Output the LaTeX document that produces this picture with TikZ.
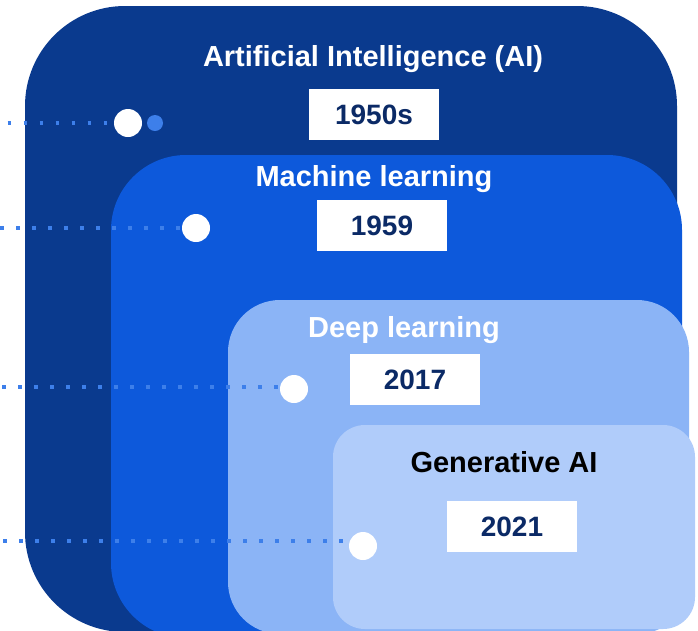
\documentclass[tikz,border=0pt]{standalone}
\usepackage{fontspec}
\setmainfont{Liberation Sans}
\usetikzlibrary{calc, shapes, backgrounds}
\definecolor{aiblue}{HTML}{0A3A8E}
\definecolor{mlblue}{HTML}{0D59DB}
\definecolor{dlblue}{HTML}{8BB4F6}
\definecolor{genblue}{HTML}{B0CCFA}
\definecolor{dotblue}{HTML}{3D7FEA}
\definecolor{yearnavy}{HTML}{0B2A66}
\tikzstyle{boxtitle} = [anchor=base, inner sep=0, font=\fontsize{29}{34}\selectfont\bfseries, text=white]
\tikzstyle{yearbox} = [rectangle, fill=white, minimum width=130pt, minimum height=51pt, inner sep=0, font=\fontsize{28}{32}\selectfont\bfseries, text=yearnavy]
\tikzstyle{milestone} = [circle, fill=white, minimum size=28pt, inner sep=0]
\tikzstyle{leader} = [dotblue, line width=3.5pt, dash pattern=on 3.5pt off 12.5pt]

\begin{document}
\begin{tikzpicture}[x=1pt, y=-1pt]
			\clip (0,0) rectangle (698,630);
			\fill[white] (0,0) rectangle (698,630);

			% Nested areas
			\fill[aiblue, rounded corners=100pt] (25,6) rectangle (677,632);
			\fill[mlblue, rounded corners=75pt] (111,155) rectangle (682,638);
			\fill[dlblue, rounded corners=52pt] (228,300) rectangle (689,634);
			\fill[genblue, rounded corners=32pt] (333,425) rectangle (695,629);

			% Titles
			\node[boxtitle] (aiTitle) at (373,66) {Artificial Intelligence (AI)};
			\node[boxtitle] (mlTitle) at (374,186) {Machine learning};
			\node[boxtitle] (dlTitle) at (404,337) {Deep learning};
			\node[boxtitle, text=black] (genTitle) at (504,472) {Generative AI};

			% Years
			\node[yearbox] (aiYear) at (374,114.5) {1950s};
			\node[yearbox] (mlYear) at (382,225.5) {1959};
			\node[yearbox] (dlYear) at (415,379.5) {2017};
			\node[yearbox] (genYear) at (512,526.5) {2021};

			% Milestones
			\node[milestone] (aiDot) at (128,123) {};
			\node[circle, fill=dotblue, minimum size=16pt, inner sep=0] (aiDotSmall) at (155,123) {};
			\node[milestone] (mlDot) at (196,228) {};
			\node[milestone] (dlDot) at (294,389) {};
			\node[milestone] (genDot) at (363,546) {};

			% Leaders
			\coordinate (aiEnd) at (7.6,123);
			\coordinate (mlEnd) at (0,228);
			\coordinate (dlEnd) at (2.3,387);
			\coordinate (genEnd) at (3,541);
			\draw[leader] (aiEnd) -- (aiDot);
			\draw[leader] (mlEnd) -- (mlDot);
			\draw[leader] (dlEnd) -- (dlEnd -| dlDot.west);
			\draw[leader] (genEnd) -- (genEnd -| genDot.west);
		\end{tikzpicture}
\end{document}
